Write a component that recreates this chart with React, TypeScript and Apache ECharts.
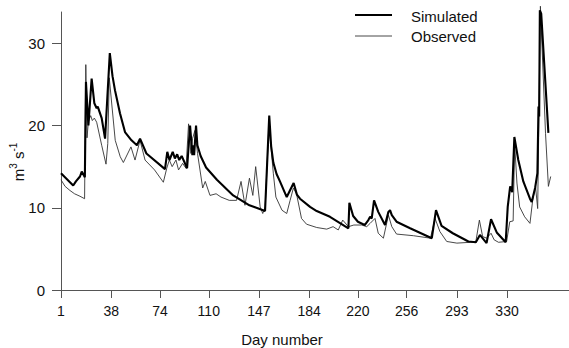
import React, { useEffect, useRef } from "react";
import * as echarts from "echarts";

const simDays = [1, 10, 12, 15, 16.3, 18.6, 19.4, 21.2, 23.6, 25.6, 27.3, 28.1, 31, 33.5, 37, 39, 40.8, 44.5, 48.2, 53, 57, 59.3, 64, 77.7, 79.4, 81, 83.4, 85, 86.7, 88.2, 90, 94, 96.2, 97.9, 98.6, 99.2, 100.6, 101.6, 104, 108, 116, 128, 140, 151.5, 154.6, 156, 157.6, 160, 162.5, 167.5, 172.6, 175, 177.3, 184.7, 189.6, 199.4, 213, 213.7, 216.5, 220, 225, 227.7, 229, 230.2, 231.9, 235, 240, 242.5, 243.7, 245, 248.5, 258.5, 274.5, 277.6, 281.7, 290, 301.5, 307, 310, 314.9, 318.2, 322.4, 329, 330.5, 332.3, 333.8, 335.4, 338.3, 342, 346.9, 348.2, 350.7, 352.4, 353.2, 353.7, 354.2, 355.2, 360.5];
const simValues = [14.2, 12.7, 13.2, 13.8, 14.4, 13.7, 25.3, 20.0, 25.7, 22.7, 22.1, 22.3, 20.9, 18.4, 28.8, 26.0, 24.3, 21.5, 19.2, 18.2, 17.6, 18.4, 16.6, 14.7, 16.8, 15.8, 16.8, 16.0, 16.5, 15.8, 16.3, 14.8, 20.0, 16.4, 17.6, 16.4, 20.0, 17.6, 16.3, 14.9, 13.4, 11.5, 10.3, 9.6, 21.2, 17.5, 15.5, 14.1, 13.2, 11.3, 13.0, 11.6, 11.1, 10.1, 9.6, 8.9, 7.5, 10.6, 9.0, 8.3, 7.9, 8.5, 8.9, 8.7, 10.9, 9.5, 7.9, 9.5, 9.7, 9.1, 8.3, 7.5, 6.3, 9.7, 7.8, 6.9, 5.9, 5.8, 6.7, 5.7, 8.6, 7.0, 5.8, 10.1, 12.6, 11.9, 18.6, 15.8, 13.2, 11.1, 10.7, 12.4, 14.2, 22.3, 21.1, 34.0, 33.6, 19.1];

const obsDays = [1, 4, 7.6, 11, 15, 18.4, 19.3, 20.2, 21.2, 22.9, 24.1, 25.6, 27.3, 31, 34.2, 35.5, 36.6, 41, 44.7, 47, 52.6, 55.6, 59.3, 63, 70, 76.5, 79, 80.9, 83, 85.8, 87.7, 90.7, 93.2, 95.1, 96.8, 98, 99.8, 101.7, 105.5, 107.4, 110.9, 115.4, 119, 125.1, 130.5, 133.8, 136.7, 140, 142.5, 144.6, 147.9, 149.8, 151.6, 154.4, 157.6, 159.5, 164, 167.5, 170, 172.4, 174.7, 178.4, 182.1, 189.6, 197, 201.7, 205.5, 208.8, 213, 217, 222.8, 226.5, 229, 232.6, 235, 238.8, 242.5, 245, 248.5, 261, 273.5, 276.9, 280.5, 285.5, 293, 303, 307, 309.6, 312, 315, 318.2, 320.5, 323.7, 329.7, 332, 334.5, 335.6, 337.3, 339.3, 343, 346.9, 348.9, 349.8, 351, 352.6, 354.6, 358.4, 360.5, 362.2];
const obsValues = [13.4, 12.6, 12.1, 11.7, 11.4, 11.1, 27.4, 18.5, 20.5, 21.2, 20.6, 20.9, 20.4, 17.6, 15.3, 17.8, 25.8, 18.2, 16.2, 15.5, 17.4, 15.8, 18.2, 15.8, 14.6, 13.1, 14.8, 15.8, 15.0, 15.8, 14.6, 15.4, 14.8, 20.2, 16.6, 18.4, 19.4, 16.6, 12.4, 13.2, 11.5, 11.7, 11.3, 10.9, 10.9, 13.2, 10.3, 13.6, 11.5, 15.0, 10.1, 9.3, 10.1, 20.2, 14.2, 11.3, 9.7, 9.3, 10.9, 12.4, 11.7, 8.7, 8.0, 7.6, 7.4, 7.7, 7.3, 8.5, 7.7, 7.9, 7.9, 7.7, 8.1, 8.7, 6.9, 6.3, 9.1, 7.7, 6.8, 6.6, 6.3, 8.7, 7.1, 5.9, 5.7, 5.8, 5.9, 8.5, 6.5, 6.3, 6.9, 6.1, 5.8, 5.9, 8.3, 8.4, 17.8, 13.0, 10.1, 8.9, 8.1, 10.9, 11.7, 12.6, 9.9, 34.5, 19.0, 12.6, 13.8];

const xTicks = [1, 38, 74, 110, 147, 184, 220, 256, 293, 330];
const yTicks = [0, 10, 20, 30];
const seriesNames = ["Simulated", "Observed"];

const FONT = "'Liberation Sans', Arial, Helvetica, sans-serif";

export default function App() {
  const ref = useRef<HTMLDivElement>(null);
  useEffect(() => {
    if (!ref.current) return;
    const chart = echarts.init(ref.current, null, { renderer: "svg" });
    const sim = simDays.map((d, i) => [d, simValues[i]]);
    const obs = obsDays.map((d, i) => [d, obsValues[i]]);
    chart.setOption({
      animation: false,
      backgroundColor: "#ffffff",
      textStyle: { fontFamily: FONT },
      grid: { left: 61, right: 0, top: 12, bottom: 58 },
      xAxis: {
        type: "value",
        min: 1,
        max: 375.7,
        axisLine: { show: true, onZero: false, lineStyle: { color: "#555", width: 1 } },
        axisTick: { show: true, customValues: xTicks, length: 8, lineStyle: { color: "#555" } },
        axisLabel: { show: true, customValues: xTicks, margin: 14, color: "#111", fontSize: 14, fontFamily: FONT },
        splitLine: { show: false },
      },
      yAxis: {
        type: "value",
        min: 0,
        max: 33.8,
        axisLine: { show: true, lineStyle: { color: "#555", width: 1 } },
        axisTick: { show: true, customValues: yTicks, length: 9, lineStyle: { color: "#555" } },
        axisLabel: { show: true, customValues: yTicks, margin: 16, color: "#111", fontSize: 15, fontFamily: FONT },
        splitLine: { show: false },
      },
      series: [
        {
          name: seriesNames[0],
          type: "line",
          data: sim,
          showSymbol: false,
          clip: false,
          lineStyle: { color: "#000", width: 2.1 },
          z: 3,
        },
        {
          name: seriesNames[1],
          type: "line",
          data: obs,
          showSymbol: false,
          clip: false,
          lineStyle: { color: "#333", width: 0.9 },
          z: 2,
        },
      ],
      graphic: [
        { type: "line", shape: { x1: 355, y1: 15, x2: 392, y2: 15 }, style: { stroke: "#000", lineWidth: 2.1 } },
        { type: "line", shape: { x1: 355, y1: 36, x2: 392, y2: 36 }, style: { stroke: "#333", lineWidth: 0.9 } },
        { type: "text", x: 411, y: 16, style: { text: seriesNames[0], font: `15px ${FONT}`, fill: "#111", textVerticalAlign: "middle" } },
        { type: "text", x: 411, y: 36, style: { text: seriesNames[1], font: `15px ${FONT}`, fill: "#111", textVerticalAlign: "middle" } },
        { type: "text", x: 282, y: 339, style: { text: "Day number", font: `15px ${FONT}`, fill: "#111", textAlign: "center", textVerticalAlign: "middle" } },
        {
          type: "text",
          x: 17,
          y: 162,
          rotation: Math.PI / 2,
          style: {
            text: "{a|m}{s|3}{a| s}{s|-1}",
            textAlign: "center",
            textVerticalAlign: "middle",
            fill: "#111",
            rich: {
              a: { fontSize: 15, fontFamily: FONT, fill: "#111", verticalAlign: "bottom", lineHeight: 18 },
              s: { fontSize: 10, fontFamily: FONT, fill: "#111", verticalAlign: "top", lineHeight: 18 },
            },
          },
        },
      ],
    });
    return () => chart.dispose();
  }, []);
  return <div ref={ref} style={{ width: 569, height: 348, position: "absolute", left: 0, top: 0 }} />;
}
